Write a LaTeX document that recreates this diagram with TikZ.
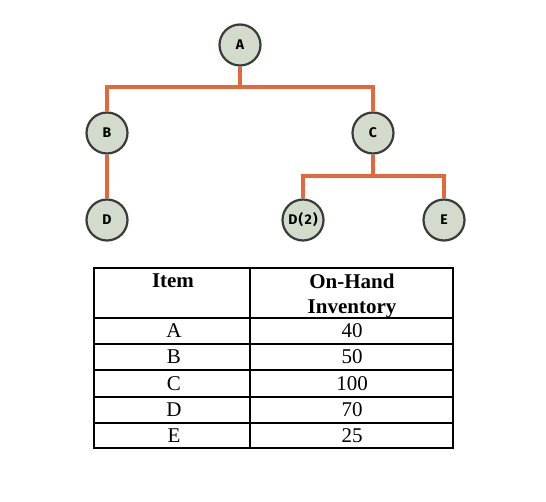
\documentclass[tikz,border=0pt]{standalone}
\usepackage{fontspec}
\setmainfont{Liberation Serif}
\newfontfamily\labfont[LetterSpace=9]{Fira Sans}
\definecolor{nodefill}{HTML}{D3DCCC}
\definecolor{nodeline}{HTML}{3A3A3A}
\definecolor{linkcol}{HTML}{E2693A}
\begin{document}
\begin{tikzpicture}[x=1pt,y=-1pt,
  part/.style={circle,draw=nodeline,fill=nodefill,line width=2.2pt,minimum size=41pt,inner sep=0pt,font=\labfont\bfseries\fontsize{14}{16}\selectfont},
  link/.style={draw=linkcol,line width=3.2pt},
  grid/.style={line width=1.5pt},
  cell/.style={font=\fontsize{21}{23}\selectfont,inner sep=0pt},
  head/.style={font=\bfseries\fontsize{21}{25}\selectfont,inner sep=0pt,align=center}]
\useasboundingbox (0,0) rectangle (546,502);
% connectors
\coordinate (jA) at (240,87);
\coordinate (jC) at (373,176);
% tree
\node[part] (A) at (240,45) {A};
\node[part] (B) at (107,133) {B};
\node[part] (C) at (373,133) {C};
\node[part] (D) at (107,220) {D};
\node[part] (D2) at (303,220) {D(2)};
\node[part] (E) at (444,220) {E};
\draw[link] (A.south) -- (jA) -| (B.north);
\draw[link] (jA) -| (C.north);
\draw[link] (B.south) -- (D.north);
\draw[link] (C.south) -- (jC) -| (D2.north);
\draw[link] (jC) -| (E.north);
% table
\draw[grid] (94,268) rectangle (453,448);
\draw[grid] (250,268) -- (250,448);
\foreach \yy in {318,344,370,397,423} \draw[grid] (94,\yy) -- (453,\yy);
\node[head,anchor=north] (h1) at (173,274) {Item};
\node[head,anchor=north] (h2) at (352,274) {On-Hand\\Inventory};
\node[cell] (ra) at (174,331) {A};
\node[cell] (va) at (352,331) {40};
\node[cell] (rb) at (174,357) {B};
\node[cell] (vb) at (352,357) {50};
\node[cell] (rc) at (174,384) {C};
\node[cell] (vc) at (352,384) {100};
\node[cell] (rd) at (174,410) {D};
\node[cell] (vd) at (352,410) {70};
\node[cell] (re) at (174,436) {E};
\node[cell] (ve) at (352,436) {25};
\end{tikzpicture}
\end{document}
